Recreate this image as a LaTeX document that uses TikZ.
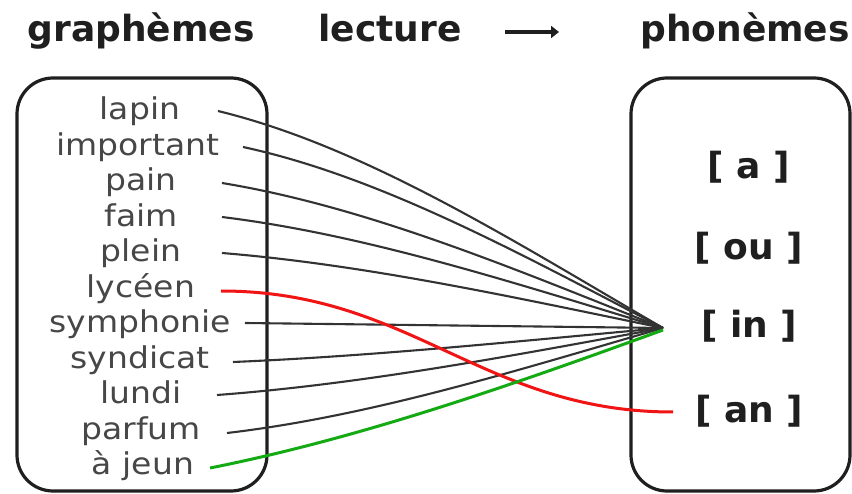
\documentclass[tikz,border=0pt]{standalone}
\usepackage{fontspec}
\setmainfont{DejaVu Sans}
\newfontfamily\wordfont[FakeStretch=1.1]{DejaVu Sans}
\usetikzlibrary{arrows.meta,calc}
\definecolor{linkred}{RGB}{240,20,20}
\definecolor{linkgreen}{RGB}{20,170,20}
\begin{document}
\begin{tikzpicture}[x=1pt,y=-1pt,
  word/.style={font=\wordfont\fontsize{30}{30}\selectfont, text=black!72, anchor=base, inner sep=0pt},
  title/.style={font=\bfseries\fontsize{36}{36}\selectfont, text=black!88, anchor=base, inner sep=0pt},
  phon/.style={font=\bfseries\fontsize{36}{36}\selectfont, text=black!88, anchor=base, inner sep=0pt},
  panel/.style={draw=black!88, line width=3.2pt, rounded corners=36pt},
  link/.style={line width=2.1pt, draw=black!80},
  redlink/.style={line width=3pt, draw=linkred},
  greenlink/.style={line width=3pt, draw=linkgreen},
  titlearrow/.style={line width=4pt, draw=black!88, -{Triangle[width=12pt,length=8pt]}}]
\useasboundingbox (0,0) rectangle (852,494);
\fill[white] (0,0) rectangle (852,494);

% titles
\node[title] (tg) at (141,42) {graphèmes};
\node[title] (tl) at (390,42) {lecture};
\node[title] (tp) at (745,42) {phonèmes};
\coordinate (arrS) at (505,32);
\coordinate (arrE) at (559,32);
\draw[titlearrow] (arrS) -- (arrE);

% panels
\draw[panel] (17,78) rectangle (267,491);
\draw[panel] (631,78) rectangle (850,491);

% words
\node[word] (w1) at (140,120) {lapin};
\node[word] (w2) at (138,155.5) {important};
\node[word] (w3) at (141,191) {pain};
\node[word] (w4) at (141,226.5) {faim};
\node[word] (w5) at (141,262) {plein};
\node[word] (w6) at (141,297.5) {lycéen};
\node[word] (w7) at (140,333) {symphonie};
\node[word] (w8) at (140,368.5) {syndicat};
\node[word] (w9) at (141,404) {lundi};
\node[word] (w10) at (141,439.5) {parfum};
\node[word] (w11) at (143,475) {à jeun};

% phonemes
\node[phon] (pa) at (749,179) {[ a ]};
\node[phon] (pou) at (749,260) {[ ou ]};
\node[phon] (pin) at (749,338) {[ in ]};
\node[phon] (pan) at (749,422) {[ an ]};

% connector ends
\coordinate (s1) at (218,111);
\coordinate (s2) at (243,147);
\coordinate (s3) at (222,183);
\coordinate (s4) at (222,217);
\coordinate (s5) at (222,253);
\coordinate (s6) at (221,291);
\coordinate (s7) at (245,323);
\coordinate (s8) at (233,362);
\coordinate (s9) at (217,395);
\coordinate (s10) at (227,433);
\coordinate (s11) at (210,468);
\coordinate (hub) at (663,328);
\coordinate (hubg) at (663,330);
\coordinate (anend) at (673,412);

\draw[link] (s1) .. controls +(148,36) and +(-148,-86) .. (hub);
\draw[link] (s2) .. controls +(139,30) and +(-139,-72) .. (hub);
\draw[link] (s3) .. controls +(146,24) and +(-146,-58) .. (hub);
\draw[link] (s4) .. controls +(146,18) and +(-146,-44) .. (hub);
\draw[link] (s5) .. controls +(146,12) and +(-146,-30) .. (hub);
\draw[link] (s7) -- (hub);
\draw[link] (s8) .. controls +(143,-6) and +(-143,13) .. (hub);
\draw[link] (s9) .. controls +(147,-11) and +(-147,27) .. (hub);
\draw[link] (s10) .. controls +(145,-17) and +(-145,42) .. (hub);
\draw[redlink] (s6) .. controls +(190,0) and +(-190,0) .. (anend);
\draw[greenlink] (s11) .. controls +(151,-30) and +(-151,55) .. (hubg);
\end{tikzpicture}
\end{document}
